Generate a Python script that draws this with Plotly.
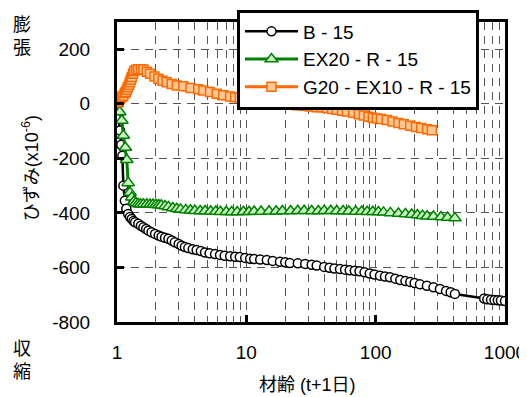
import plotly.graph_objects as go

# ---- data ----
b15_t = [1.0, 1.03, 1.055, 1.08, 1.1, 1.12, 1.15, 1.18, 1.22, 1.26, 1.30, 1.34, 1.38, 1.46, 1.53, 1.6,
         1.68, 1.75, 1.85, 1.97, 2.1, 2.21, 2.35, 2.5, 2.65, 2.8, 3.0, 3.16, 3.35, 3.56, 3.85, 4.13,
         4.45, 4.79, 5.2, 5.73, 6.26, 6.8, 7.5, 8.2, 8.9, 9.8, 10.7, 11.5, 12.8, 14.4, 16, 18.2, 20,
         21.7, 25, 28.5, 32, 35, 40, 44, 48, 53, 58, 63, 69, 75, 82, 90, 98, 108, 118, 129, 142, 155,
         170, 185, 200, 220, 249, 280, 314, 350, 380, 410, 690, 730, 780, 830, 880, 930, 1000]
b15_v = [0, -50, -98, -150, -190, -300, -355, -385, -404, -415, -422, -430, -434, -440, -447, -453,
         -459, -465, -471, -477, -483, -487, -491, -495, -501, -508, -514, -520, -525, -529, -533, -536,
         -540, -545, -548, -551, -554, -557, -559, -561, -562, -565, -568, -569, -571, -573, -576, -579, -581,
         -584, -585, -587, -590, -593, -598, -601, -604, -606, -608, -610, -612, -614, -618, -622, -626, -630, -633, -636, -641, -646,
         -650, -653, -657, -662, -667, -673, -679, -686, -691, -697, -714, -717, -718, -719, -720, -721, -723]

ex_t = [1.0, 1.05, 1.09, 1.12, 1.16, 1.19, 1.22, 1.26, 1.30, 1.35, 1.40, 1.46, 1.52, 1.6, 1.7, 1.8, 1.9,
        2.0, 2.1, 2.2, 2.35, 2.5, 2.7, 2.9, 3.1, 3.4, 3.7, 4.0, 4.4, 4.8, 5.3, 5.8, 6.3, 7.0, 7.7, 8.5,
        9.5, 10.5, 11.5, 13, 15, 17, 19, 22, 25, 28, 32, 36, 40, 45, 50, 56, 62, 70, 78, 86, 95, 105,
        115, 130, 150, 170, 190, 210, 230, 250, 280, 320, 360, 410]
ex_v = [0, -30, -61, -116, -160, -205, -290, -325, -343, -358, -364, -367, -368, -368, -368, -369, -369,
        -370, -371, -372, -375, -378, -382, -385, -387, -389, -390, -392, -393, -393, -394, -395, -396, -396, -397, -397,
        -396, -396, -395, -395, -394, -394, -393, -393, -392, -392, -393, -393, -392, -392, -393, -393, -394, -395, -395, -396, -396, -397,
        -398, -400, -402, -404, -406, -408, -410, -412, -413, -415, -417, -419]

g20_t = [1.0, 1.03, 1.055, 1.09, 1.12, 1.15, 1.17, 1.19, 1.21, 1.24, 1.26, 1.28, 1.30, 1.33, 1.36, 1.41,
         1.46, 1.53, 1.6, 1.7, 1.8, 1.95, 2.09, 2.25, 2.42, 2.65, 2.9, 3.26, 3.7, 4.25, 4.65, 5.24, 5.9,
         6.64, 7.5, 8.2, 8.9, 10.1, 11.0, 12.4, 13.5, 14.8, 16.4, 18.2, 20, 21.7, 24.5, 27.6, 31, 35, 38,
         42, 46, 50, 55, 60, 67, 74, 81, 88, 95, 102, 110, 122, 135, 150, 165, 185, 205, 225, 250, 272]
g20_v = [6, 12, 18, 25, 30, 40, 43, 52, 61, 70, 79, 88, 98, 110, 120, 125,
         127, 127, 126, 118, 110, 100, 92, 85, 79, 73, 67, 64, 58, 53, 49, 43, 37,
         31, 27, 24, 22, 18, 16, 12, 10, 8, 5, 2, 0, -3, -5, -7, -10, -13, -13,
         -15, -19, -22, -25, -28, -33, -38, -43, -47, -51, -54, -56, -59, -65, -70, -75, -80, -85, -89, -93, -97]

series_names = ["B - 15", "EX20 - R - 15", "G20 - EX10 - R - 15"]
x_tickvals = [1, 10, 100, 1000]
x_ticktext = ["1", "10", "100", "1000"]
y_tickvals = [-800, -600, -400, -200, 0, 200]
y_ticktext = ["-800", "-600", "-400", "-200", "0", "200"]

FONT = "Liberation Sans, Arial, Noto Sans CJK JP"
GRID = "#555555"
DASH = "8px,6px"

fig = go.Figure()
fig.add_trace(go.Scatter(
    x=b15_t, y=b15_v, name=series_names[0], mode="lines+markers",
    line=dict(color="black", width=2.5),
    marker=dict(symbol="circle", size=9, color="white", line=dict(color="black", width=1.5))))
fig.add_trace(go.Scatter(
    x=ex_t, y=ex_v, name=series_names[1], mode="lines+markers",
    line=dict(color="#008000", width=3),
    marker=dict(symbol="triangle-up", size=11, color="#c6f5c0", line=dict(color="#008000", width=1.5))))
fig.add_trace(go.Scatter(
    x=g20_t, y=g20_v, name=series_names[2], mode="lines+markers",
    line=dict(color="#ff6a00", width=3),
    marker=dict(symbol="square", size=9, color="#ffc896", line=dict(color="#ff6a00", width=1.5))))

# page has an 8px body margin: figure is 519x389 so that the visible page is 527x397
fig.update_layout(
    width=519, height=389, autosize=False,
    margin=dict(l=109, r=22, t=14, b=75, autoexpand=False),
    paper_bgcolor="white", plot_bgcolor="white",
    font=dict(family=FONT, size=19, color="black"),
    showlegend=True,
    legend=dict(xref="container", yref="container", x=229/519, y=1 - 1.5/389,
                xanchor="left", yanchor="top", itemwidth=53,
                bgcolor="white", bordercolor="black", borderwidth=3,
                font=dict(family=FONT, size=19), tracegroupgap=0),
)
fig.update_xaxes(
    type="log", range=[0, 3], automargin=False,
    tickvals=x_tickvals, ticktext=x_ticktext,
    ticks="inside", ticklen=7, tickwidth=3, tickcolor="black",
    showline=True, linecolor="black", linewidth=3, mirror=True,
    showgrid=True, gridcolor=GRID, gridwidth=1, griddash=DASH,
    minor=dict(showgrid=True, gridcolor=GRID, gridwidth=1, griddash=DASH, dtick="D1", ticks=""),
    ticklabelstandoff=11, zeroline=False,
    tickfont=dict(size=19),
)
fig.update_yaxes(
    range=[-800, 300], automargin=False,
    tickvals=y_tickvals, ticktext=y_ticktext,
    ticks="inside", ticklen=7, tickwidth=3, tickcolor="black",
    showline=True, linecolor="black", linewidth=3, mirror=True,
    showgrid=True, gridcolor=GRID, gridwidth=1, griddash=DASH,
    ticklabelstandoff=20, zeroline=False,
    tickfont=dict(size=19),
)

fig.add_annotation(text="ひずみ(x10<sup>-6</sup>)", xref="paper", yref="paper",
                   x=-0.224, y=0.513, textangle=-90, showarrow=False,
                   xanchor="center", yanchor="middle", font=dict(size=18))
fig.add_annotation(text="材齢 (t+1日)", xref="paper", yref="paper",
                   x=0.49, y=-0.21, showarrow=False, xanchor="center", yanchor="middle",
                   font=dict(size=18))
fig.add_annotation(text="膨<br>張", xref="paper", yref="paper",
                   x=-0.245, y=0.953, showarrow=False, xanchor="center", yanchor="middle",
                   font=dict(size=18))
fig.add_annotation(text="収<br>縮", xref="paper", yref="paper",
                   x=-0.245, y=-0.127, showarrow=False, xanchor="center", yanchor="middle",
                   font=dict(size=18))

fig.write_html("out.html")
